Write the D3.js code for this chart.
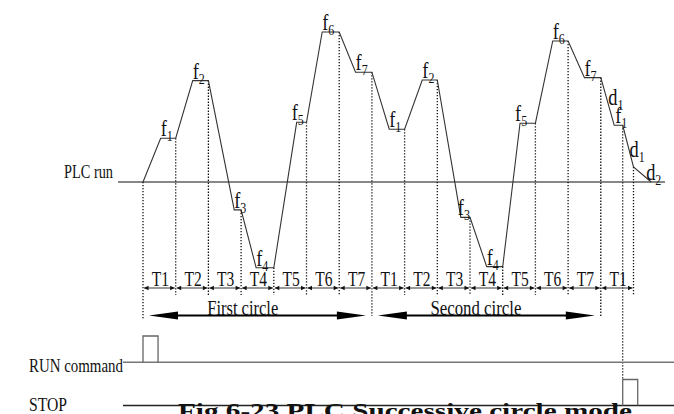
<!DOCTYPE html>
<html>
<head>
<meta charset="utf-8">
<script src="https://cdn.jsdelivr.net/npm/d3@7"></script>
<style>
  body { margin: 0; background: #fff; }
  svg { display: block; }
  text { font-family: "Liberation Serif", "DejaVu Serif", serif; fill: #111; }
</style>
</head>
<body>
<div id="chart"></div>
<script>
// step names of the T row (two full circles + stop step)
const stepNames = ["T1", "T2", "T3", "T4", "T5", "T6", "T7", "T1", "T2", "T3", "T4", "T5", "T6", "T7", "T1"];
// frequency of each plateau (f1..f7 twice), arbitrary units
const plateauFreq = [14.6, 33.8, -9.3, -28.6, 19.9, 50, 36.6, 17.6, 34, -11.8, -28.2, 19.6, 47, 34.8];
const plateauSub = ["1", "2", "3", "4", "5", "6", "7", "1", "2", "3", "4", "5", "6", "7"];
// time (in steps) when the ramp of each step reaches its plateau
const rampEnd = [0.54, 1.52, 2.79, 3.46, 4.70, 5.48, 6.50, 7.53, 8.54, 9.72, 10.51, 11.53, 12.53, 13.50];
// after the stop command
const stopTime = [14.41, 14.67, 15.0, 15.54];
const stopFreq = [18.9, 18.9, 5, 0];
const stopNames = [["d", "1"], ["f", "1"], ["d", "1"], ["d", "2"]];
const circleNames = ["First circle", "Second circle"];
const signalNames = ["RUN command", "STOP"];

const W = 674, H = 414;
const svg = d3.select("#chart").append("svg").attr("width", W).attr("height", H);

const x = d3.scaleLinear().domain([0, 15]).range([143, 633.5]);
const y = d3.scaleLinear().domain([0, 50]).range([182, 32]);

const SQ = 0.8; // the original lettering is squeezed horizontally

function label(g, str, px, py, size, opts = {}) {
  const t = g.append("text")
    .attr("transform", `translate(${px},${py}) scale(${opts.sx || SQ},1)`)
    .attr("font-size", size)
    .attr("text-anchor", opts.anchor || "start");
  if (opts.bold) t.attr("font-weight", "bold");
  if (opts.len) t.attr("textLength", opts.len / (opts.sx || SQ)).attr("lengthAdjust", "spacingAndGlyphs");
  return t.text(str);
}

function subLabel(g, main, sub, px, py) {
  const t = g.append("text")
    .attr("transform", `translate(${px},${py}) scale(${SQ},1)`)
    .attr("font-size", 23);
  t.append("tspan").text(main);
  t.append("tspan").attr("font-size", 15).attr("dy", 5).text(sub);
}

// waveform points
const pts = [[0, 0]];
plateauFreq.forEach((f, i) => { pts.push([rampEnd[i], f]); pts.push([i + 1, f]); });
stopTime.forEach((t, i) => pts.push([t, stopFreq[i]]));

// PLC run baseline
svg.append("line")
  .attr("x1", 118).attr("x2", 665)
  .attr("y1", y(0)).attr("y2", y(0))
  .attr("stroke", "#111").attr("stroke-width", 1.1);
label(svg, "PLC run", 64, 178, 18, { len: 49 });

// dotted guides
const guides = d3.range(0, 15).map(t => ({ t, f: t === 0 ? 0 : plateauFreq[t - 1] }))
  .concat([{ t: stopTime[1], f: stopFreq[1] }, { t: stopTime[2], f: stopFreq[2] }]);
const guideEnd = t => t === 0 ? 319 : (t === 7 || t === 14) ? 316 : t === stopTime[1] ? 380 : 295;
svg.append("g").selectAll("line").data(guides).join("line")
  .attr("x1", d => x(d.t)).attr("x2", d => x(d.t))
  .attr("y1", d => y(d.f)).attr("y2", d => guideEnd(d.t))
  .attr("stroke", "#111").attr("stroke-width", 1.3)
  .attr("stroke-dasharray", "1.3,1.7");

// waveform
svg.append("path")
  .attr("d", d3.line().x(d => x(d[0])).y(d => y(d[1]))(pts))
  .attr("fill", "none").attr("stroke", "#333").attr("stroke-width", 1.1);

// frequency labels
const fl = svg.append("g");
plateauFreq.forEach((f, i) => {
  const dx = plateauSub[i] === "5" ? -5 : (plateauSub[i] === "3" && i > 6 ? -3 : 0);
  subLabel(fl, "f", plateauSub[i], x(rampEnd[i]) + dx, y(f) - 2);
});
subLabel(fl, stopNames[0][0], stopNames[0][1], x(stopTime[0]) - 6, 105);
subLabel(fl, stopNames[1][0], stopNames[1][1], x(stopTime[0]) + 1, y(stopFreq[1]) - 2);
subLabel(fl, stopNames[2][0], stopNames[2][1], x(stopTime[2]) - 4, 157);
subLabel(fl, stopNames[3][0], stopNames[3][1], x(stopTime[3]) - 5, 180);

// T row
const rowY = 288;
const tRow = svg.append("g");
const tri = (px, dir) => `M${px},${rowY}L${px - dir * 4.5},${rowY - 2.2}L${px - dir * 4.5},${rowY + 2.2}Z`;
stepNames.forEach((name, i) => {
  const a = x(i), b = x(i + 1);
  tRow.append("line").attr("x1", a + 1).attr("x2", b - 1).attr("y1", rowY).attr("y2", rowY)
    .attr("stroke", "#555").attr("stroke-width", 1.2);
  tRow.append("path").attr("d", tri(a + 1, -1)).attr("fill", "#111");
  tRow.append("path").attr("d", tri(b - 1, 1)).attr("fill", "#111");
  label(tRow, name, (a + b) / 2 + 1, 285.5, 21, { anchor: "middle", sx: 0.74 });
});

// circle arrows
const arrY = 315.5;
const cg = svg.append("g");
circleNames.forEach((name, k) => {
  const a = x(k * 7) + 6, b = x(k * 7 + 7) - 6;
  cg.append("line").attr("x1", a + 20).attr("x2", b - 20).attr("y1", arrY).attr("y2", arrY)
    .attr("stroke", "#000").attr("stroke-width", 2.2);
  cg.append("path").attr("d", `M${a},${arrY}L${a + 29},${arrY - 4}L${a + 29},${arrY + 4}Z`).attr("fill", "#000");
  cg.append("path").attr("d", `M${b},${arrY}L${b - 29},${arrY - 4}L${b - 29},${arrY + 4}Z`).attr("fill", "#000");
  const c = x(k * 7 + (k ? 3.18 : 3.05));
  label(cg, name, c, 314.5, 20, { anchor: "middle", len: k ? 91 : 71 });
});

// RUN command / STOP signals
const runY = 362.3, stopY = 405.5;
svg.append("line").attr("x1", 123).attr("x2", W).attr("y1", runY).attr("y2", runY)
  .attr("stroke", "#777").attr("stroke-width", 1.5);
svg.append("path")
  .attr("d", `M${x(0)},${runY}V336H${x(0.46)}V${runY}`)
  .attr("fill", "none").attr("stroke", "#666").attr("stroke-width", 1.3);
label(svg, signalNames[0], 29, 371.5, 19, { len: 94 });

svg.append("line").attr("x1", 123).attr("x2", W).attr("y1", stopY).attr("y2", stopY)
  .attr("stroke", "#222").attr("stroke-width", 1.3);
svg.append("path")
  .attr("d", `M${x(stopTime[1])},${stopY}V379.5H${x(stopTime[1]) + 15}V${stopY}`)
  .attr("fill", "none").attr("stroke", "#666").attr("stroke-width", 1.3);
label(svg, signalNames[1], 29, 411, 19, { len: 38 });

// caption (cut by the bottom edge)
label(svg, "Fig 6-23   PLC Successive circle mode", 178, 418, 20, { bold: true, len: 454 });
</script>
</body>
</html>
